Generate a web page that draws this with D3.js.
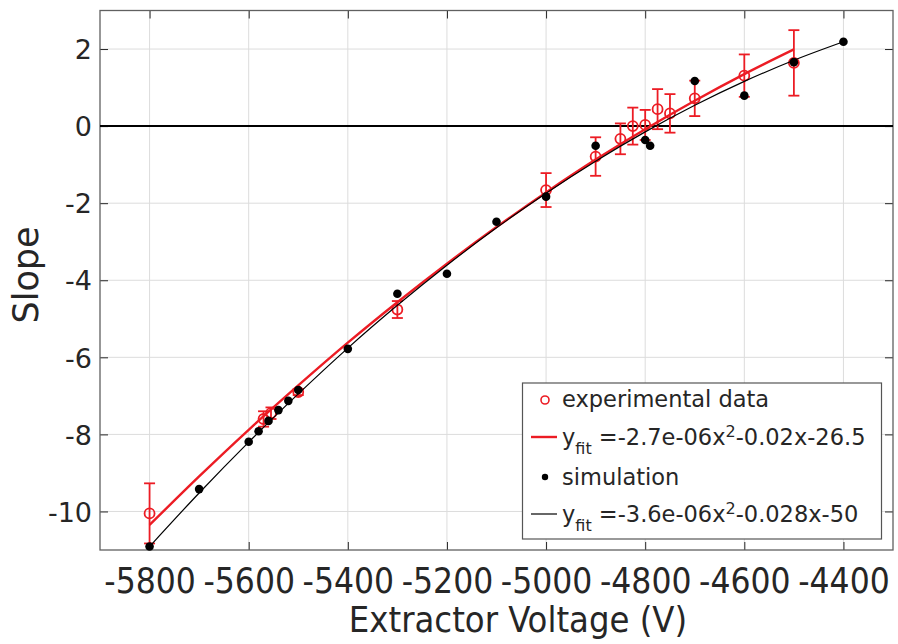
<!DOCTYPE html>
<html lang="en">
<head>
  <meta charset="UTF-8" />
  <title>Slope vs Extractor Voltage</title>
  <script src="https://d3js.org/d3.v7.min.js"></script>
  <style>
    body { margin: 0; background: #fff; font-family: "DejaVu Sans", sans-serif; }
    svg { display: block; }
  </style>
</head>
<body>
  <svg width="898" height="644"></svg>

  <script>
  // experimental points (red circles + error bars)
  const expV     = [-5800, -5570, -5555, -5500, -5300, -5000, -4900, -4850, -4825, -4800, -4775, -4750, -4700, -4600, -4500];
  const expSlope = [-10.05, -7.6, -7.45, -6.9, -4.76, -1.66, -0.79, -0.33, 0.0, 0.03, 0.44, 0.33, 0.72, 1.31, 1.64];
  const expErr   = [0.78, 0.2, 0.15, 0.08, 0.22, 0.44, 0.5, 0.4, 0.48, 0.39, 0.52, 0.5, 0.46, 0.55, 0.85];

  // simulation points (black dots)
  const simV     = [-5800, -5700, -5600, -5580, -5560, -5540, -5520, -5500, -5400, -5300, -5200, -5100, -5000, -4900, -4800, -4790, -4700, -4600, -4500, -4400];
  const simSlope = [-10.91, -9.42, -8.19, -7.92, -7.65, -7.37, -7.13, -6.85, -5.78, -4.35, -3.83, -2.48, -1.83, -0.51, -0.36, -0.51, 1.17, 0.79, 1.66, 2.19];

  // fitted curves
  const fitExpV     = [-5800, -5700, -5600, -5500, -5400, -5300, -5200, -5100, -5000, -4900, -4800, -4700, -4600, -4500];
  const fitExpSlope = [-10.35, -9.09, -7.88, -6.73, -5.62, -4.57, -3.57, -2.62, -1.72, -0.87, -0.08, 0.66, 1.35, 1.99];
  const fitSimV     = [-5800, -5700, -5600, -5500, -5400, -5300, -5200, -5100, -5000, -4900, -4800, -4700, -4600, -4500, -4400];
  const fitSimSlope = [-10.91, -9.52, -8.20, -6.95, -5.76, -4.65, -3.61, -2.64, -1.74, -0.91, -0.15, 0.54, 1.16, 1.71, 2.19];

  const xTicks = [-5800, -5600, -5400, -5200, -5000, -4800, -4600, -4400];
  const yTicks = [-10, -8, -6, -4, -2, 0, 2];

  const red = "#ec1c24";
  const ink = "#262626";

  const svg = d3.select("svg");
  const L = 100, R = 893, T = 10.5, B = 550;

  const x = d3.scaleLinear().domain([-5900, -4300]).range([L, R]);
  const y = d3.scaleLinear().domain([-11, 3]).range([B, T]);
  const plain = d => String(d);   // keep the ascii hyphen like the original

  // grid
  const grid = svg.append("g").attr("stroke", "#dcdcdc").attr("stroke-width", 1);
  grid.selectAll("line.v").data(xTicks).enter().append("line")
    .attr("x1", d => x(d)).attr("x2", d => x(d)).attr("y1", T).attr("y2", B);
  grid.selectAll("line.h").data(yTicks).enter().append("line")
    .attr("x1", L).attr("x2", R).attr("y1", d => y(d)).attr("y2", d => y(d));

  // axes with inward ticks
  const axB = svg.append("g").attr("transform", `translate(0,${B})`)
    .call(d3.axisBottom(x).tickValues(xTicks).tickSizeInner(-8).tickSizeOuter(0).tickFormat(plain));
  const axT = svg.append("g").attr("transform", `translate(0,${T})`)
    .call(d3.axisTop(x).tickValues(xTicks).tickSizeInner(-8).tickSizeOuter(0).tickFormat(""));
  const axL = svg.append("g").attr("transform", `translate(${L},0)`)
    .call(d3.axisLeft(y).tickValues(yTicks).tickSizeInner(-8).tickSizeOuter(0).tickFormat(plain));
  const axR = svg.append("g").attr("transform", `translate(${R},0)`)
    .call(d3.axisRight(y).tickValues(yTicks).tickSizeInner(-8).tickSizeOuter(0).tickFormat(""));

  [axB, axT, axL, axR].forEach(g => {
    g.select(".domain").remove();
    g.selectAll(".tick line").attr("stroke", ink).attr("stroke-width", 1);
  });

  axB.selectAll(".tick text")
    .attr("y", 43).attr("dy", 0)
    .style("font-family", "'DejaVu Sans Condensed', 'DejaVu Sans', sans-serif")
    .style("font-size", "35px").attr("fill", ink);
  axL.selectAll(".tick text")
    .attr("x", -8).attr("dy", "0.36em")
    .style("font-family", "'DejaVu Sans', sans-serif")
    .style("font-size", "27px").attr("fill", ink);

  // box
  svg.append("rect").attr("x", L).attr("y", T).attr("width", R - L).attr("height", B - T)
    .attr("fill", "none").attr("stroke", "#606060").attr("stroke-width", 1.3);

  // zero line
  svg.append("line").attr("x1", L).attr("x2", R).attr("y1", y(0)).attr("y2", y(0))
    .attr("stroke", "#000").attr("stroke-width", 2);

  const line = d3.line().x(d => x(d[0])).y(d => y(d[1])).curve(d3.curveMonotoneX);

  // experimental fit + data
  svg.append("path")
    .datum(fitExpV.map((v, i) => [v, fitExpSlope[i]]))
    .attr("d", line).attr("fill", "none").attr("stroke", red).attr("stroke-width", 2.4);

  const exp = expV.map((v, i) => ({ v, s: expSlope[i], e: expErr[i] }));
  const eb = svg.append("g").attr("stroke", red).attr("stroke-width", 1.8).attr("fill", "none");
  eb.selectAll("line.bar").data(exp).enter().append("line")
    .attr("x1", d => x(d.v)).attr("x2", d => x(d.v))
    .attr("y1", d => y(d.s - d.e)).attr("y2", d => y(d.s + d.e));
  eb.selectAll("line.cap1").data(exp).enter().append("line")
    .attr("x1", d => x(d.v) - 5.5).attr("x2", d => x(d.v) + 5.5)
    .attr("y1", d => y(d.s + d.e)).attr("y2", d => y(d.s + d.e));
  eb.selectAll("line.cap2").data(exp).enter().append("line")
    .attr("x1", d => x(d.v) - 5.5).attr("x2", d => x(d.v) + 5.5)
    .attr("y1", d => y(d.s - d.e)).attr("y2", d => y(d.s - d.e));
  eb.selectAll("circle").data(exp).enter().append("circle")
    .attr("cx", d => x(d.v)).attr("cy", d => y(d.s)).attr("r", 5);

  // simulation fit + data
  svg.append("path")
    .datum(fitSimV.map((v, i) => [v, fitSimSlope[i]]))
    .attr("d", line).attr("fill", "none").attr("stroke", "#000").attr("stroke-width", 1.2);

  svg.append("g").selectAll("circle")
    .data(simV.map((v, i) => [v, simSlope[i]]))
    .enter().append("circle")
    .attr("cx", d => x(d[0])).attr("cy", d => y(d[1])).attr("r", 4.3).attr("fill", "#000");

  // axis titles
  svg.append("text")
    .attr("x", 518).attr("y", 632)
    .attr("text-anchor", "middle")
    .style("font-family", "'DejaVu Sans Condensed', 'DejaVu Sans', sans-serif")
    .style("font-size", "36px").attr("fill", ink)
    .text("Extractor Voltage (V)");

  svg.append("text")
    .attr("transform", "translate(38,275) rotate(-90)")
    .attr("text-anchor", "middle")
    .style("font-family", "'DejaVu Sans', sans-serif")
    .style("font-size", "35px").attr("fill", ink)
    .text("Slope");

  // legend
  const lg = svg.append("g").style("font-family", "'DejaVu Sans', sans-serif").attr("fill", ink);
  lg.append("rect").attr("x", 522.5).attr("y", 383).attr("width", 359).attr("height", 156)
    .attr("fill", "#fff").attr("stroke", "#555").attr("stroke-width", 1.2);

  const tx = 562, fs = 22.5;
  lg.append("circle").attr("cx", 545).attr("cy", 400).attr("r", 4)
    .attr("fill", "none").attr("stroke", red).attr("stroke-width", 1.6);
  lg.append("text").attr("x", tx).attr("y", 407).style("font-size", fs + "px").text("experimental data");

  lg.append("line").attr("x1", 531).attr("x2", 557).attr("y1", 437).attr("y2", 437)
    .attr("stroke", red).attr("stroke-width", 2.4);
  const f1 = lg.append("text").attr("x", tx).attr("y", 445).style("font-size", fs + "px");
  f1.append("tspan").text("y");
  f1.append("tspan").attr("dy", 9).style("font-size", "16px").text("fit");
  f1.append("tspan").attr("dy", -9).text(" =-2.7e-06x");
  f1.append("tspan").attr("dy", -8).style("font-size", "16px").text("2");
  f1.append("tspan").attr("dy", 8).text("-0.02x-26.5");

  lg.append("circle").attr("cx", 545).attr("cy", 477).attr("r", 3.2).attr("fill", "#000");
  lg.append("text").attr("x", tx).attr("y", 485).style("font-size", fs + "px").text("simulation");

  lg.append("line").attr("x1", 531).attr("x2", 557).attr("y1", 514).attr("y2", 514)
    .attr("stroke", "#000").attr("stroke-width", 1.2);
  const f2 = lg.append("text").attr("x", tx).attr("y", 522).style("font-size", fs + "px");
  f2.append("tspan").text("y");
  f2.append("tspan").attr("dy", 9).style("font-size", "16px").text("fit");
  f2.append("tspan").attr("dy", -9).text(" =-3.6e-06x");
  f2.append("tspan").attr("dy", -8).style("font-size", "16px").text("2");
  f2.append("tspan").attr("dy", 8).text("-0.028x-50");
  </script>
</body>
</html>
